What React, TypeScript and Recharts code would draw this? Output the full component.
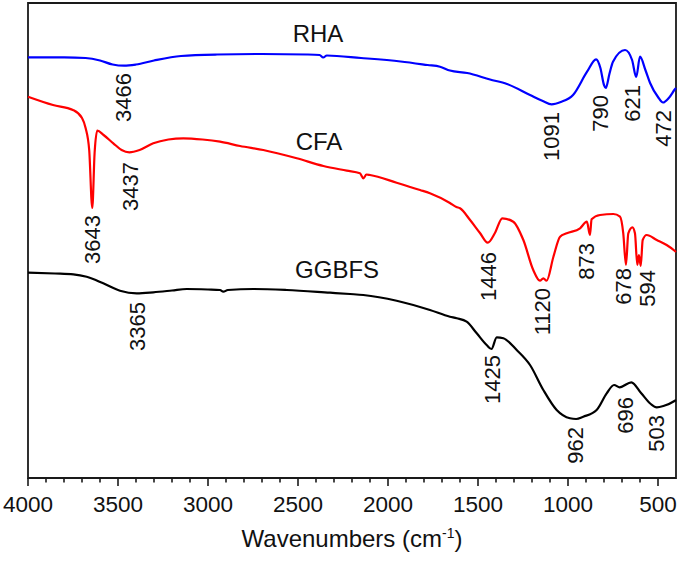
import React from 'react';
import { ComposedChart, Line, Scatter, XAxis, YAxis, ReferenceArea } from 'recharts';

// wavenumber (cm-1), transmittance in arbitrary units (curves stacked with offsets)
const rha = [
  [4000, 420.7], [3800, 420.7], [3680, 420], [3600, 417.5], [3530, 413.5], [3466, 412.3],
  [3400, 413.5], [3300, 417.5], [3150, 422], [2950, 423.5], [2700, 424], [2450, 423.5],
  [2380, 423], [2360, 420.5], [2340, 422.5], [2150, 420], [1930, 416.5], [1780, 413],
  [1711, 411.3], [1656, 407.5], [1560, 405], [1433, 398.5], [1339, 394], [1211, 383],
  [1140, 377], [1091, 373.7], [1040, 376], [972, 383], [894, 406.3], [844, 418.7],
  [820, 410], [800, 393], [790, 390], [770, 404], [750, 416.3], [683, 428], [644, 418],
  [621, 401], [600, 421.3], [570, 408], [544, 395], [500, 381], [472, 375.5], [440, 380],
  [406, 388.7], [400, 390],
];

const cfa = [
  [4000, 381.3], [3861, 373], [3750, 368], [3700, 360], [3680, 350], [3660, 328], [3643, 270],
  [3630, 325], [3615, 347.3], [3580, 343], [3526, 334.7], [3480, 328], [3437, 325.7],
  [3380, 328], [3304, 334.7], [3220, 338.5], [3137, 339.7], [3030, 338.5], [2933, 336.3],
  [2822, 332], [2693, 328], [2507, 319.7], [2359, 312], [2229, 307.3], [2156, 304.7],
  [2137, 299.7], [2120, 303.5], [2100, 303], [1952, 295.3], [1822, 288], [1767, 284.7],
  [1656, 275], [1620, 271], [1600, 269.7], [1544, 258], [1489, 245], [1446, 235.3],
  [1406, 245], [1365, 259.7], [1304, 256.3], [1248, 238], [1193, 208], [1156, 197.3],
  [1137, 199.7], [1119, 197.3], [1081, 221.3], [1044, 241.3], [1007, 244.7], [933, 249.7],
  [895, 256.3], [878, 243], [869, 258.7], [822, 263], [748, 264], [711, 261.3], [693, 244.7],
  [678, 213], [665, 244.7], [642, 250.7], [628, 244.7], [615, 213], [606, 223], [596, 212],
  [585, 238], [563, 243], [507, 238], [452, 233], [406, 227], [400, 226],
];

const ggbfs = [
  [4000, 205.3], [3850, 204.5], [3748, 203.7], [3674, 201.3], [3582, 194.7], [3489, 187.3],
  [3396, 184.7], [3304, 185.7], [3200, 187.5], [3118, 189], [3000, 188.5], [2933, 188],
  [2915, 186.3], [2890, 188], [2748, 189], [2563, 188], [2322, 185.3], [2211, 184],
  [2137, 183], [1952, 177.3], [1767, 168], [1656, 161.3], [1618, 159.7], [1563, 156.3],
  [1507, 144.7], [1452, 133], [1425, 129], [1396, 140.7], [1359, 139.7], [1285, 128],
  [1211, 113], [1137, 88], [1063, 68], [989, 59.7], [955, 59], [915, 61.3], [841, 68],
  [785, 84.7], [744, 93], [713, 90.7], [648, 95.7], [593, 84.7], [540, 74], [507, 70.7],
  [470, 72], [406, 77.3], [400, 78],
];

// peak labels: text, anchor wavenumber, top of label (same units as curves)
const peakLabels = [
  ['3466', 3467, 405], ['1091', 1089, 366], ['790', 822, 383], ['621', 639, 393], ['472', 472, 368],
  ['3643', 3644, 263], ['3437', 3433, 316], ['1446', 1444, 226], ['1120', 1139, 190],
  ['873', 900, 235], ['678', 694, 210], ['594', 556, 208],
  ['3365', 3389, 176], ['1425', 1417, 123], ['962', 961, 51], ['696', 683, 81], ['503', 506, 63],
];

const sampleNames = [['RHA', 2389, 436], ['CFA', 2383, 328], ['GGBFS', 2283, 200]];

const xTicks = [
  4000, 3900, 3800, 3700, 3600, 3500, 3400, 3300, 3200, 3100, 3000, 2900, 2800, 2700,
  2600, 2500, 2400, 2300, 2200, 2100, 2000, 1900, 1800, 1700, 1600, 1500, 1400, 1300,
  1200, 1100, 1000, 900, 800, 700, 600, 500,
];

const toPoints = (rows: number[][]) => rows.map(([w, t]) => ({ w, t }));
const FONT = '"Liberation Sans", Arial, sans-serif';
const AXIS = '#1a1a1a';

const WaveTick = (props: any) => {
  const { x, y, payload } = props;
  const major = payload.value % 500 === 0;
  return (
    <g>
      <line x1={x} x2={x} y1={y} y2={y + (major ? 8 : 4.5)} stroke={AXIS} strokeWidth={1.6} />
      {major && (
        <text x={x} y={y + 34} textAnchor="middle" fontSize={22.5} fontFamily={FONT} fill="#111">
          {payload.value}
        </text>
      )}
    </g>
  );
};

const PeakText = (props: any) => {
  const { cx, cy, payload } = props;
  return (
    <text
      transform={`translate(${cx},${cy}) rotate(-90)`}
      textAnchor="end"
      dominantBaseline="central"
      fontSize={22}
      fontFamily={FONT}
      fill="#111"
    >
      {payload.text}
    </text>
  );
};

const NameText = (props: any) => {
  const { cx, cy, payload } = props;
  return (
    <text x={cx} y={cy} textAnchor="middle" fontSize={24} fontFamily={FONT} fill="#111">
      {payload.text}
    </text>
  );
};

const AxisTitle = (props: any) => {
  const { x, y, width } = props.viewBox;
  return (
    <text x={x + width / 2} y={y + 69} textAnchor="middle" fontSize={24} fontFamily={FONT} fill="#111">
      <tspan>Wavenumbers (cm</tspan>
      <tspan dy={-9} fontSize={14}>-1</tspan>
      <tspan dy={9}>)</tspan>
    </text>
  );
};

export default function App() {
  const labelData = peakLabels.map(([text, w, t]) => ({ text, w, t }));
  const nameData = sampleNames.map(([text, w, t]) => ({ text, w, t }));

  return (
    <div style={{ position: 'absolute', left: 0, top: 0, width: 685, height: 564, background: '#fff' }}>
      <ComposedChart width={685} height={564} margin={{ top: 3, right: 9, left: 28, bottom: 0 }}>
        <XAxis
          dataKey="w"
          type="number"
          domain={[400, 4000]}
          reversed
          ticks={xTicks}
          interval={0}
          tickSize={0}
          tickMargin={0}
          tick={<WaveTick />}
          tickLine={false}
          axisLine={{ stroke: AXIS, strokeWidth: 1.8 }}
          height={86}
          label={{ content: AxisTitle }}
        />
        <YAxis dataKey="t" type="number" domain={[0, 475]} hide />
        <ReferenceArea
          x1={4000}
          x2={400}
          y1={0}
          y2={475}
          fill="none"
          fillOpacity={0}
          stroke={AXIS}
          strokeWidth={1.8}
          strokeOpacity={1}
          ifOverflow="visible"
        />
        <Line data={toPoints(rha)} dataKey="t" type="monotone" stroke="#0000ff" strokeWidth={2.2} dot={false} isAnimationActive={false} />
        <Line data={toPoints(cfa)} dataKey="t" type="monotone" stroke="#ff0000" strokeWidth={2.2} dot={false} isAnimationActive={false} />
        <Line data={toPoints(ggbfs)} dataKey="t" type="monotone" stroke="#000000" strokeWidth={2.2} dot={false} isAnimationActive={false} />
        <Scatter data={labelData} dataKey="t" shape={<PeakText />} isAnimationActive={false} />
        <Scatter data={nameData} dataKey="t" shape={<NameText />} isAnimationActive={false} />
      </ComposedChart>
    </div>
  );
}
